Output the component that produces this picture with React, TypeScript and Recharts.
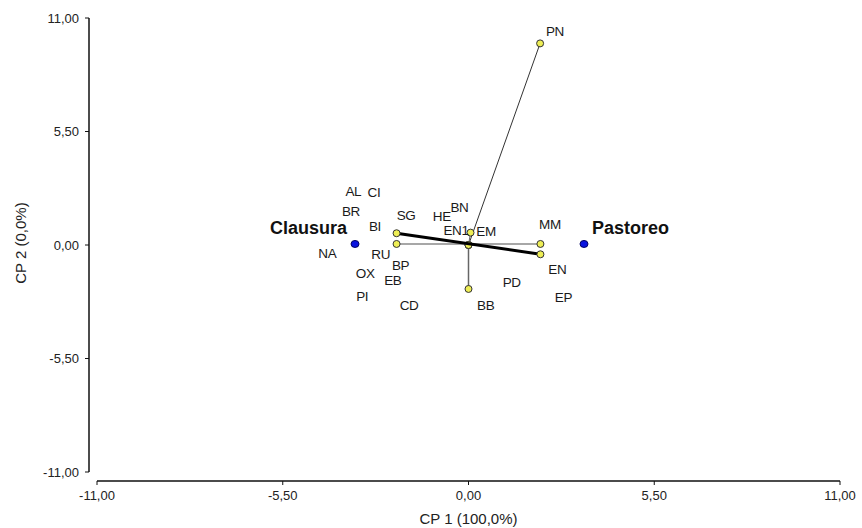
import React from 'react';
import { ScatterChart, Scatter, XAxis, YAxis } from 'recharts';

// Biplot CP1 vs CP2 — vectors from origin, case labels, group centroids

const axisTicks = [-11, -5.5, 0, 5.5, 11];

// vectors (start, end)
const pnX = [0, 2.12];
const pnY = [0, 9.77];
const boldX = [-2.13, 2.13];
const boldY = [0.57, -0.45];
const flatX = [-2.13, 2.13];
const flatY = [0.05, 0.05];
const bbX = [0, 0];
const bbY = [0, -2.13];
const en1X = [0, 0.06];
const en1Y = [0, 0.6];

// case labels
const labelNames = ['PN', 'AL', 'CI', 'BR', 'BI', 'SG', 'HE', 'BN', 'EN1', 'EM', 'NA', 'RU', 'BP', 'OX', 'EB', 'PI', 'CD', 'BB', 'PD', 'MM', 'EN', 'EP'];
const labelX = [2.56, -3.41, -2.8, -3.48, -2.77, -1.85, -0.79, -0.27, -0.37, 0.52, -4.18, -2.6, -2.01, -3.06, -2.24, -3.15, -1.76, 0.51, 1.28, 2.41, 2.63, 2.81];
const labelY = [10.33, 2.58, 2.52, 1.61, 0.89, 1.45, 1.4, 1.81, 0.69, 0.64, -0.4, -0.48, -0.98, -1.37, -1.74, -2.5, -2.91, -2.91, -1.82, 0.97, -1.21, -2.55];

// group centroids
const groupNames = ['Clausura', 'Pastoreo'];
const groupX = [-3.36, 3.42];
const groupY = [0.05, 0.05];

const FONT = '"Liberation Sans", Arial, Helvetica, sans-serif';

const toPoints = (xs: number[], ys: number[]) => xs.map((x, i) => ({ x, y: ys[i] }));
const fmt = (v: number) => v.toFixed(2).replace('.', ',');

const labelData = labelNames.map((name, i) => ({ name, x: labelX[i], y: labelY[i] }));
const groupData = groupNames.map((name, i) => ({ name, x: groupX[i], y: groupY[i] }));

const YellowDot = (props: any) => {
  const { cx, cy } = props;
  if (cx == null || cy == null) return <g />;
  return <circle cx={cx} cy={cy} r={3.5} fill="#eeee55" stroke="#333" strokeWidth={1} />;
};

const CaseLabel = (props: any) => {
  const { cx, cy, payload } = props;
  return (
    <text
      x={cx}
      y={cy}
      textAnchor="middle"
      dominantBaseline="central"
      fontFamily={FONT}
      fontSize={13.5}
      letterSpacing={-0.4}
      fill="#1a1a1a"
    >
      {payload.name}
    </text>
  );
};

const GroupMark = (props: any) => {
  const { cx, cy, payload } = props;
  const left = payload.x < 0;
  return (
    <g>
      <ellipse cx={cx} cy={cy} rx={4} ry={3.5} fill="#0a14e0" stroke="#000066" strokeWidth={1} />
      <text
        x={left ? cx - 8 : cx + 8}
        y={cy - 16}
        textAnchor={left ? 'end' : 'start'}
        dominantBaseline="central"
        fontFamily={FONT}
        fontSize={18}
        fontWeight="bold"
        fill="#111"
      >
        {payload.name}
      </text>
    </g>
  );
};

export default function App() {
  return (
    <div style={{ position: 'absolute', left: 0, top: 0, width: 862, height: 528, background: '#fff' }}>
      <ScatterChart width={862} height={528} margin={{ top: 18, right: 22, bottom: 0, left: 0 }}>
        <XAxis
          type="number"
          dataKey="x"
          domain={[-11, 11]}
          ticks={axisTicks}
          tickFormatter={fmt}
          padding={{ left: 8, right: 0 }}
          height={47}
          axisLine={{ stroke: '#111', strokeWidth: 1.5, strokeDasharray: '0 8 800' }}
          tickLine={{ stroke: '#111' }}
          tickSize={4}
          tickMargin={6}
          tick={{ fontSize: 13, fill: '#222', fontFamily: FONT }}
          label={{
            content: (p: any) => {
              const vb = p.viewBox;
              return (
                <text x={vb.x + 8 + (vb.width - 8) / 2} y={518} textAnchor="middle" dominantBaseline="central" fontFamily={FONT} fontSize={15} fill="#222">
                  CP 1 (100,0%)
                </text>
              );
            },
          }}
        />
        <YAxis
          type="number"
          dataKey="y"
          domain={[-11, 11]}
          ticks={axisTicks}
          tickFormatter={fmt}
          padding={{ top: 0, bottom: 9 }}
          width={89}
          axisLine={{ stroke: '#111', strokeWidth: 1.5, strokeDasharray: '454 100' }}
          tickLine={{ stroke: '#111' }}
          tickSize={4}
          tickMargin={6}
          tick={{ fontSize: 13, fill: '#222', fontFamily: FONT }}
          label={{
            content: (p: any) => {
              const vb = p.viewBox;
              const cy = vb.y + (vb.height - 9) / 2 - 2;
              return (
                <text x={20} y={cy} transform={`rotate(-90, 20, ${cy})`} textAnchor="middle" dominantBaseline="central" fontFamily={FONT} fontSize={15} fill="#222">
                  CP 2 (0,0%)
                </text>
              );
            },
          }}
        />
        <Scatter data={toPoints(flatX, flatY)} line={{ stroke: '#8a8a8a', strokeWidth: 1.5 }} shape={<YellowDot />} isAnimationActive={false} />
        <Scatter data={toPoints(bbX, bbY)} line={{ stroke: '#666', strokeWidth: 1.5 }} shape={<YellowDot />} isAnimationActive={false} />
        <Scatter data={toPoints(pnX, pnY)} line={{ stroke: '#333', strokeWidth: 1 }} shape={<YellowDot />} isAnimationActive={false} />
        <Scatter data={toPoints(en1X, en1Y)} line={{ stroke: '#666', strokeWidth: 1 }} shape={<YellowDot />} isAnimationActive={false} />
        <Scatter data={toPoints(boldX, boldY)} line={{ stroke: '#000', strokeWidth: 3 }} shape={<YellowDot />} isAnimationActive={false} />
        <Scatter data={labelData} shape={<CaseLabel />} isAnimationActive={false} />
        <Scatter data={groupData} shape={<GroupMark />} isAnimationActive={false} />
      </ScatterChart>
    </div>
  );
}
